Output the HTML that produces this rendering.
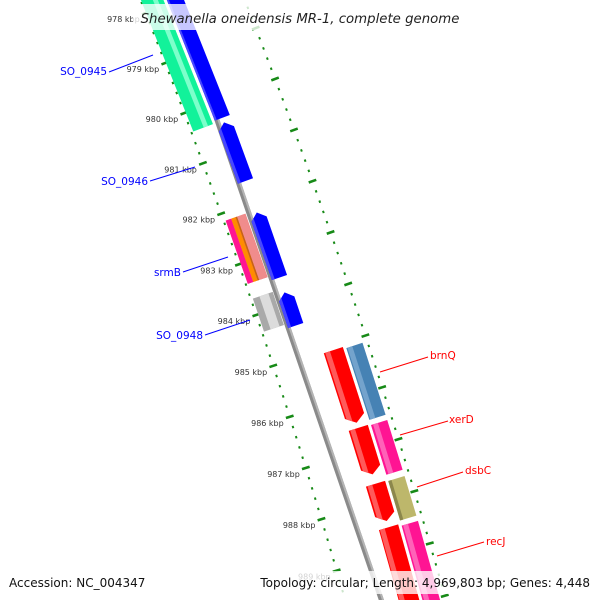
<!DOCTYPE html>
<html><head><meta charset="utf-8"><style>
html,body{margin:0;padding:0;background:#fff;overflow:hidden;}
svg{display:block;font-family:"DejaVu Sans","Liberation Sans",sans-serif;}
</style></head><body>
<svg id="map" width="600" height="600" viewBox="0 0 600 600" xmlns="http://www.w3.org/2000/svg">
<g id="ticks"></g>
<g id="feat"></g>
<g id="labs"></g>
<rect x="133" y="4" width="335" height="26" fill="#fff" opacity="0.78"/>
<text x="300" y="23" text-anchor="middle" font-style="italic" font-size="13.3" fill="#222">Shewanella oneidensis MR-1, complete genome</text>
<rect x="5" y="571" width="115" height="23" fill="#fff" opacity="0.78"/>
<text x="9" y="587" font-size="12" fill="#111">Accession: NC_004347</text>
<rect x="257" y="571" width="338" height="23" fill="#fff" opacity="0.78"/>
<text x="590" y="587" text-anchor="end" font-size="12" fill="#111">Topology: circular; Length: 4,969,803 bp; Genes: 4,448</text>
</svg>
<script>
// geometry
const A=-5750.8,B=2344.3,R=6386.6,T0=-0.36889,K0=978.9,DT=0.008452;
function P(d,k){const t=T0+(k-K0)*DT,r=R+d;return [A+r*Math.cos(t),B+r*Math.sin(t)];}
function pts(a){return a.map(p=>p[0].toFixed(2)+','+p[1].toFixed(2)).join(' ');}
const NS='http://www.w3.org/2000/svg';
function mk(tag,attrs,parent){const e=document.createElementNS(NS,tag);for(const k in attrs)e.setAttribute(k,attrs[k]);parent.appendChild(e);return e;}

// data
const tickStart=975, tickEnd=992, tickStep=0.2;
const tickLabels=[978,979,980,981,982,983,984,985,986,987,988,989];
const featStart=[975,980.42,982.2,983.77, 975,982.15,983.69, 985.07,986.58,987.66,988.5, 985.11,986.6,987.68,988.54];
const featEnd  =[980.33,981.58,983.48,984.42, 980.38,983.4,984.34, 986.48,987.48,988.38,992, 986.5,987.56,988.44,992];
const featRing =['i1','i1','i1','i1','i2','i2','i2','o1','o1','o1','o1','o2','o2','o2','o2'];
const featType =['blue','blue','blue','blue','green','srmB','grey','red','red','red','red','steel','pink','olive','pink'];
const labelText=['SO_0945','SO_0946','srmB','SO_0948','brnQ','xerD','dsbC','recJ'];
const labelColor=['#0000ff','#0000ff','#0000ff','#0000ff','#ff0000','#ff0000','#ff0000','#ff0000'];
const labelTx=[107,148,181,203,430,449,465,486];
const labelTy=[75,185,276,339,359,423,474,545];
const labelLine=[[109,72,153,55],[150,181,195,167],[183,272,228,257],[205,335,250,320],[380,372,428,357],[400,435,448,421],[417,487,463,472],[437,556,484,542]];

const rings={i1:[-20,-4],i2:[-44,-23],o1:[6,26],o2:[29,46]};
const styles={
 blue:{c:'#0000ff',l:'#4848ff',s:[0.0,0.22],arrow:-1},
 green:{c:'#12f29a',l:'#7dffcb',s:[0.6,0.82],arrow:0},
 grey:{c:'#a9a9a9',l:'#dcdcdc',s:[0.35,0.8],arrow:0},
 red:{c:'#ff0000',l:'#ff5a5a',s:[0.1,0.35],arrow:1},
 steel:{c:'#4682b4',l:'#74a3cc',s:[0.1,0.4],arrow:0},
 pink:{c:'#ff1493',l:'#ff62b8',s:[0.15,0.45],arrow:0},
 olive:{c:'#bdb76b',l:'#8c874c',s:[0.0,0.22],arrow:0},
 srmB:{c:'#f08080',arrow:0}
};

const F=document.getElementById('feat');
(function(){
 const bb=mk('polygon',{points:pts([P(-2,974),P(-2,993),P(3,993),P(3,974)]),fill:'#8a8a8a'},F);
 
 
 const bl=mk('polygon',{points:pts([P(1,974),P(1,993),P(3,993),P(3,974)]),fill:'#b4b4b4'},F);
 
 
})();

// ticks
const TG=document.getElementById('ticks');
const tickD=[-46,51];
for(const d of tickD){
 const n=Math.round((tickEnd-tickStart)/tickStep);
 for(let i=0;i<=n;i++){
  const k=tickStart+i*tickStep; const major=Math.abs(k-Math.round(k))<1e-6;
  const a=P(d-(major?4:1),k),b=P(d+(major?4:1),k);
  const ln=mk('line',{x1:a[0],y1:a[1],x2:b[0],y2:b[1],stroke:'#178a17','stroke-width':major?2.6:2.4},TG);
  
  
 }
}
const LG=document.getElementById('labs');
tickLabels.forEach(k=>{
 const p=P(-46,k);
 const t=mk('text',{x:p[0]-6,y:p[1]+9,'text-anchor':'end','font-size':8,fill:'#333'},LG);
 t.textContent=k+' kbp';
 
 
});

// features
const defs=mk('defs',{},F);
featStart.forEach((k1,i)=>{
 const k2=featEnd[i],[d1,d2]=rings[featRing[i]],st=styles[featType[i]],h=0.13,m=(d1+d2)/2;
 let shape;
 if(st.arrow===1) shape=[P(d1,k1),P(d1,k2-h),P(m,k2),P(d2,k2-h),P(d2,k1)];
 else if(st.arrow===-1) shape=[P(d1,k2),P(d1,k1+h),P(m,k1),P(d2,k1+h),P(d2,k2)];
 else shape=[P(d1,k1),P(d1,k2),P(d2,k2),P(d2,k1)];
 const g=mk('g',{},F);
 
 
 const cp=mk('clipPath',{id:'cp'+i},defs);
 mk('polygon',{points:pts(shape)},cp);
 mk('polygon',{points:pts(shape),fill:st.c},g);
 const band=(f1,f2,col)=>{const a=d1+(d2-d1)*f1,b=d1+(d2-d1)*f2;
  mk('polygon',{points:pts([P(a,k1-1),P(a,k2+1),P(b,k2+1),P(b,k1-1)]),fill:col,'clip-path':'url(#cp'+i+')'},g);};
 if(featType[i]==='srmB'){band(0,0.3,'#ff1493');band(0.3,0.52,'#ff8c00');band(0.52,0.6,'#c86414');band(0.6,1,'#f08c8c');}
 else band(st.s[0],st.s[1],st.l);
});

// gene labels
labelText.forEach((s,i)=>{
 const L=labelLine[i];
 const ln=mk('line',{x1:L[0],y1:L[1],x2:L[2],y2:L[3],stroke:labelColor[i],'stroke-width':1},LG);
 
 
 const t=mk('text',{x:labelTx[i],y:labelTy[i],'text-anchor':i<4?'end':'start','font-size':10.5,fill:labelColor[i]},LG);
 t.textContent=s;
 
 
});
</script>
</body></html>
